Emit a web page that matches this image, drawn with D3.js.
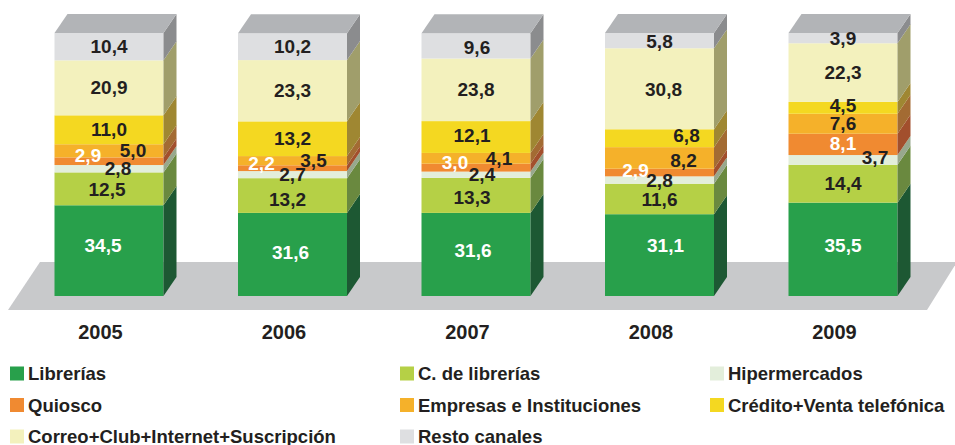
<!DOCTYPE html>
<html>
<head>
<meta charset="utf-8">
<script src="https://cdn.jsdelivr.net/npm/d3@7"></script>
<style>
  html, body { margin: 0; padding: 0; background: #ffffff; }
  svg { display: block; font-family: "Liberation Sans", Arial, Helvetica, sans-serif; }
</style>
</head>
<body>
<svg id="chart" width="955" height="445"></svg>
<script>
// Sales share by channel (%), 2005–2009
const years = ["2005", "2006", "2007", "2008", "2009"];
const seriesNames = [
  "Librerías", "C. de librerías", "Hipermercados", "Quiosco",
  "Empresas e Instituciones", "Crédito+Venta telefónica",
  "Correo+Club+Internet+Suscripción", "Resto canales"
];
const librerias     = [34.5, 31.6, 31.6, 31.1, 35.5];
const cLibrerias    = [12.5, 13.2, 13.3, 11.6, 14.4];
const hipermercados = [2.8, 2.7, 2.4, 2.8, 3.7];
const quiosco       = [2.9, 2.2, 3.0, 2.9, 8.1];
const empresas      = [5.0, 3.5, 4.1, 8.2, 7.6];
const credito       = [11.0, 13.2, 12.1, 6.8, 4.5];
const correo        = [20.9, 23.3, 23.8, 30.8, 22.3];
const resto         = [10.4, 10.2, 9.6, 5.8, 3.9];

const seriesValues = [librerias, cLibrerias, hipermercados, quiosco, empresas, credito, correo, resto];

// Colours: front face, side face
const frontColors = ["#28a04b", "#b5d046", "#e3eedb", "#f08a31", "#f5b12a", "#f4d821", "#f3f1bd", "#dedfe1"];
const sideColors  = ["#1d5833", "#6a893f", "#98a88d", "#a24f2d", "#a36b33", "#9f8732", "#a09e6b", "#8b8c8e"];
const topColor = "#b2b4b7";
const whiteLabels = new Set([0, 3]);

// Small label shifts so crowded values don't collide [dx, dy]
const labelNudge = {
  "2005": {0: [-6, -5], 1: [-2, 1], 2: [9, 0], 3: [-21, -6], 4: [24, 0]},
  "2006": {0: [-2, -2], 1: [-5, 4], 3: [-31, -5], 4: [21, 0]},
  "2007": {0: [-3, -4], 1: [-4, 2], 2: [6, 0], 3: [-21, -5], 4: [23, 0], 5: [-4, -2], 7: [1, 1]},
  "2008": {0: [6, -10], 3: [-24, -2], 4: [24, 2], 5: [27, -3], 6: [4, 1], 7: [0, 1]},
  "2009": {0: [0, -4], 2: [32, -3], 3: [0, -1], 5: [0, -2]}
};

const table = years.map((yr, i) => {
  const row = {year: yr};
  seriesNames.forEach((s, k) => { row[s] = seriesValues[k][i]; });
  return row;
});

const stacked = d3.stack().keys(seriesNames)(table);

const svg = d3.select("#chart");

const x = d3.scalePoint().domain(years).range([109, 843]);
const y = d3.scaleLinear().domain([0, 100]).range([296, 33]);
const barW = 109;
const depthX = 13, depthY = 19;
const fmt = v => d3.format(".1f")(v).replace(".", ",");

// Floor
svg.append("polygon")
  .attr("points", [[40, 262], [957, 262], [927, 310], [8, 310]].map(p => p.join(",")).join(" "))
  .attr("fill", "#c8c9cb");

// Bars
const barG = svg.append("g");
years.forEach((yr, i) => {
  const g = barG.append("g");
  const xl = x(yr) - barW / 2, xr = x(yr) + barW / 2;
  stacked.forEach((layer, k) => {
    const d = layer[i];
    const y0 = y(d[0]), y1 = y(d[1]);
    g.append("rect")
      .attr("x", xl).attr("y", y1)
      .attr("width", barW).attr("height", y0 - y1)
      .attr("fill", frontColors[k]);
    g.append("polygon")
      .attr("points", [[xr, y1], [xr + depthX, y1 - depthY], [xr + depthX, y0 - depthY], [xr, y0]]
        .map(p => p.join(",")).join(" "))
      .attr("fill", sideColors[k]);
  });
  const yTop = y(d3.max(stacked, l => l[i][1]));
  g.append("polygon")
    .attr("points", [[xl, yTop], [xl + depthX, yTop - depthY], [xr + depthX, yTop - depthY], [xr, yTop]]
      .map(p => p.join(",")).join(" "))
    .attr("fill", topColor);

  // value labels
  stacked.forEach((layer, k) => {
    const d = layer[i];
    const nudge = (labelNudge[yr] && labelNudge[yr][k]) || [0, 0];
    g.append("text")
      .attr("x", x(yr) + nudge[0])
      .attr("y", y((d[0] + d[1]) / 2) + nudge[1])
      .attr("dy", "0.35em")
      .attr("text-anchor", "middle")
      .attr("font-size", 19)
      .attr("font-weight", "bold")
      .attr("fill", whiteLabels.has(k) ? "#ffffff" : "#231f20")
      .text(fmt(seriesValues[k][i]));
  });
});

// Year axis
const axisG = svg.append("g")
  .attr("transform", "translate(-9,0)")
  .call(d3.axisBottom(x).tickSize(0).tickPadding(0));
axisG.select(".domain").remove();
axisG.selectAll("text")
  .attr("y", 339).attr("dy", null)
  .attr("font-size", 20)
  .attr("font-weight", "bold")
  .attr("font-family", "Liberation Sans, Arial, sans-serif")
  .attr("fill", "#231f20");

// Legend
const colX = [10, 400, 710];
const rowY = [380, 411.5, 443];
const legend = svg.append("g");
seriesNames.forEach((name, k) => {
  const c = k % 3, r = Math.floor(k / 3);
  const lg = legend.append("g").attr("transform", `translate(${colX[c]},${rowY[r]})`);
  lg.append("rect").attr("x", 0).attr("y", -13.5).attr("width", 14).attr("height", 14)
    .attr("fill", frontColors[k]);
  lg.append("text").attr("x", 18).attr("y", 0)
    .attr("font-size", 18.5).attr("font-weight", "bold").attr("fill", "#231f20")
    .text(name);
});
</script>
</body>
</html>
